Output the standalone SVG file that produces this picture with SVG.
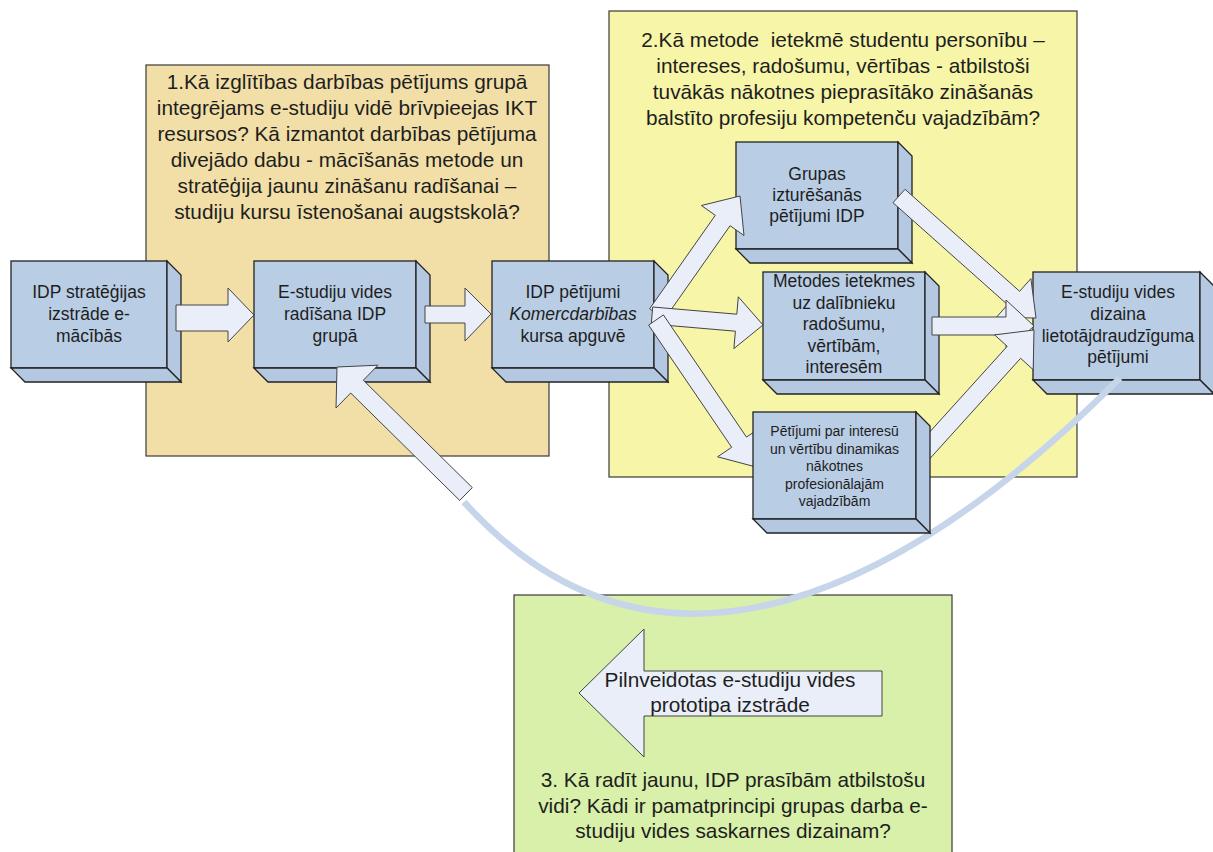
<svg xmlns="http://www.w3.org/2000/svg" width="1213" height="852" viewBox="0 0 1213 852">
<defs>
<style>
.panel{stroke:#3a3a3a;stroke-width:1.2}
.front{fill:#b9cde5;stroke:#222;stroke-width:1.3}
.side{fill:#b4c8e1;stroke:#222;stroke-width:1.3;stroke-linejoin:miter}
.arrow{fill:#e9eef8;stroke:#444;stroke-width:1;stroke-linejoin:miter}
.t{font-family:"Liberation Sans",Arial,sans-serif;fill:#1e1e1e;text-anchor:middle}
.q{font-size:20.8px}
.b{font-size:17.5px}
.s{font-size:14px}
</style>
</defs>
<rect width="1213" height="852" fill="#ffffff"/>

<g id="panel-q1">
<rect class="panel" x="146" y="65" width="403" height="391" fill="#f2dfa7"/>
<text class="t q" x="347" y="89">1.Kā izglītības darbības pētījums grupā</text>
<text class="t q" x="347" y="115">integrējams e-studiju vidē brīvpieejas IKT</text>
<text class="t q" x="347" y="141">resursos? Kā izmantot darbības pētījuma</text>
<text class="t q" x="347" y="167">divejādo dabu - mācīšanās metode un</text>
<text class="t q" x="347" y="193">stratēģija jaunu zināšanu radīšanai –</text>
<text class="t q" x="347" y="219">studiju kursu īstenošanai augstskolā?</text>
</g>

<g id="panel-q2">
<rect class="panel" x="609" y="11" width="468" height="466" fill="#f6f5a8"/>
<text class="t q" x="843" y="47" xml:space="preserve">2.Kā metode  ietekmē studentu personību –</text>
<text class="t q" x="843" y="73">intereses, radošumu, vērtības - atbilstoši</text>
<text class="t q" x="843" y="99">tuvākās nākotnes pieprasītāko zināšanās</text>
<text class="t q" x="843" y="125">balstīto profesiju kompetenču vajadzībām?</text>
</g>

<g id="panel-q3">
<rect class="panel" x="514" y="595" width="438" height="270" fill="#d8f0a9"/>
<text class="t q" x="733" y="787">3. Kā radīt jaunu, IDP prasībām atbilstošu</text>
<text class="t q" x="733" y="813">vidi? Kādi ir pamatprincipi grupas darba e-</text>
<text class="t q" x="733" y="838">studiju vides saskarnes dizainam?</text>
</g>

<g id="node-idp-strategija">
<rect class="front" x="11" y="261" width="156" height="107"/>
<polygon class="side" points="167,261 181,275 181,382 167,368"/>
<polygon class="side" points="11,368 167,368 181,382 25,382"/>
<text class="t b" x="89" y="298">IDP stratēģijas</text>
<text class="t b" x="89" y="320">izstrāde e-</text>
<text class="t b" x="89" y="341.5">mācībās</text>
</g>

<g id="node-e-studiju-radisana">
<rect class="front" x="254" y="261" width="162" height="107"/>
<polygon class="side" points="416,261 430,275 430,382 416,368"/>
<polygon class="side" points="254,368 416,368 430,382 268,382"/>
<text class="t b" x="335" y="298">E-studiju vides</text>
<text class="t b" x="335" y="320">radīšana IDP</text>
<text class="t b" x="335" y="341.5">grupā</text>
</g>

<g id="node-idp-petijumi">
<rect class="front" x="492" y="261" width="162" height="107"/>
<polygon class="side" points="654,261 668,275 668,382 654,368"/>
<polygon class="side" points="492,368 654,368 668,382 506,382"/>
<text class="t b" x="573" y="298">IDP pētījumi</text>
<text class="t b" x="573" y="320" font-style="italic">Komercdarbības</text>
<text class="t b" x="573" y="341.5">kursa apguvē</text>
</g>

<g id="node-grupas">
<rect class="front" x="736" y="142" width="162" height="107"/>
<polygon class="side" points="898,142 912,156 912,263 898,249"/>
<polygon class="side" points="736,249 898,249 912,263 750,263"/>
<text class="t b" x="817" y="180">Grupas</text>
<text class="t b" x="817" y="201">izturēšanās</text>
<text class="t b" x="817" y="222">pētījumi IDP</text>
</g>

<g id="node-metodes">
<rect class="front" x="763" y="272" width="162" height="108"/>
<polygon class="side" points="925,272 939,286 939,394 925,380"/>
<polygon class="side" points="763,380 925,380 939,394 777,394"/>
<text class="t b" x="844" y="287">Metodes ietekmes</text>
<text class="t b" x="844" y="309">uz dalībnieku</text>
<text class="t b" x="844" y="330">radošumu,</text>
<text class="t b" x="844" y="352">vērtībām,</text>
<text class="t b" x="844" y="373">interesēm</text>
</g>

<g id="node-dizains">
<rect class="front" x="1033" y="272" width="167" height="108"/>
<polygon class="side" points="1200,272 1214,286 1214,394 1200,380"/>
<polygon class="side" points="1033,380 1200,380 1214,394 1047,394"/>
<text class="t b" x="1118" y="298">E-studiju vides</text>
<text class="t b" x="1118" y="320">dizaina</text>
<text class="t b" x="1118" y="341.5" font-size="17px">lietotājdraudzīguma</text>
<text class="t b" x="1118" y="363">pētījumi</text>
</g>

<g id="connectors">
<path d="M1120,378 C912,586 661,720 464,502" fill="none" stroke="#c6d5ea" stroke-width="6.5"/>
<polygon class="arrow" points="176,305 228,305 228,288 254,315 228,342 228,331 176,331"/>
<polygon class="arrow" points="425,306 465,306 465,288 491,314 465,341 465,323 425,323"/>
<polygon class="arrow" points="664.4,319.2 730.1,225.7 744,235.5 740,196 701.4,205.5 715.3,215.3 649.6,308.8"/>
<polygon class="arrow" points="651.3,324 735.4,331.2 733.9,348.6 763,325 738.3,296.8 736.8,314.2 652.7,307"/>
<polygon class="arrow" points="648.6,325.1 731.7,447.3 717.6,456.8 756,467 760.6,427.6 746.5,437.1 663.4,314.9"/>
<polygon class="arrow" points="893,202.7 1007.6,304.7 996.3,317.4 1036,318 1030.9,278.6 1019.6,291.3 905,189.3"/>
<polygon class="arrow" points="932,317 1006,317 1006,300 1034,326 1006,352 1006,335 932,335"/>
<polygon class="arrow" points="918.7,471 1020.6,358.3 1033.2,369.7 1034,330 994.6,334.9 1007.2,346.3 905.3,459"/>
<polygon class="arrow" points="472.3,487.6 363.3,380.2 378,365.2 337,367 336,408 350.7,393 459.7,500.4"/>
</g>

<g id="node-petijumi-interesu">
<rect class="front" x="753" y="412" width="163" height="107"/>
<polygon class="side" points="916,412 930,426 930,533 916,519"/>
<polygon class="side" points="753,519 916,519 930,533 767,533"/>
<text class="t s" x="834.5" y="436">Pētījumi par interesū</text>
<text class="t s" x="834.5" y="453.5">un vērtību dinamikas</text>
<text class="t s" x="834.5" y="471">nākotnes</text>
<text class="t s" x="834.5" y="488.5">profesionālajām</text>
<text class="t s" x="834.5" y="506">vajadzībām</text>
</g>

<g id="node-prototips">
<polygon class="arrow" points="579,693 644,629 644,671 882,671 882,716 644,716 644,757"/>
<text class="t q" x="730" y="687">Pilnveidotas e-studiju vides</text>
<text class="t q" x="730" y="712">prototipa izstrāde</text>
</g>
</svg>
